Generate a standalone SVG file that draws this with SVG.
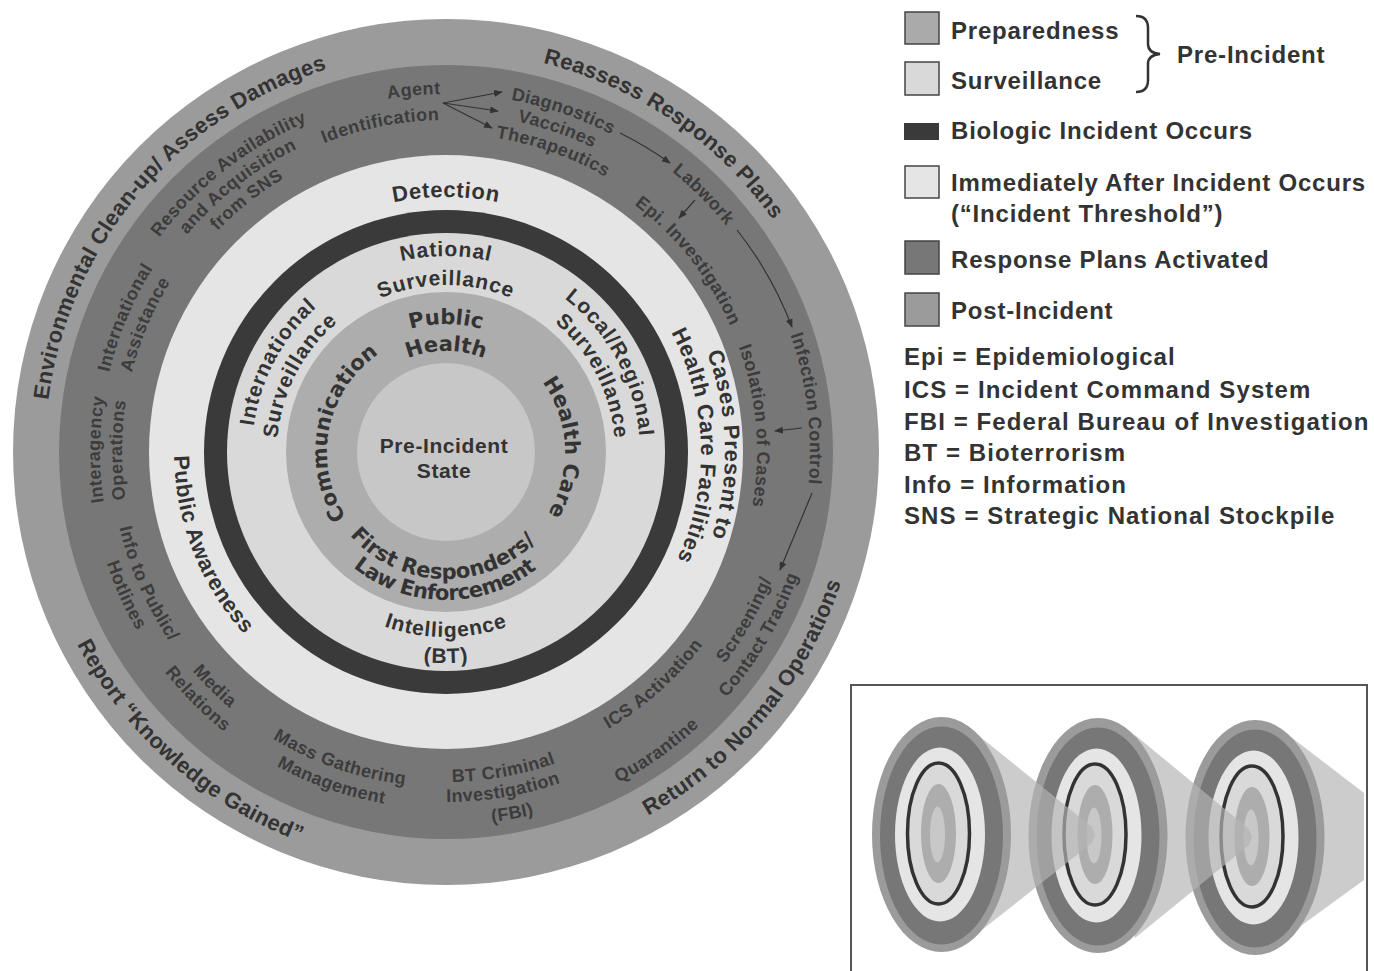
<svg xmlns="http://www.w3.org/2000/svg" width="1374" height="971" viewBox="0 0 1374 971">
<style>
text{font-family:'Liberation Sans',Arial,sans-serif;font-weight:bold;fill:#333;text-anchor:middle}
.o{font-size:22px;letter-spacing:.3px}
.l{font-size:22px;letter-spacing:.6px}
.s{font-size:21px;letter-spacing:.9px}
.p{font-family:'DejaVu Sans',sans-serif;font-size:21px}
.r{font-size:18px;fill:#3c3c3c;letter-spacing:.45px}
.c{font-size:21px;letter-spacing:.6px}
.lg{font-size:24px;letter-spacing:.8px;text-anchor:start}
.ab{font-size:24px;letter-spacing:1.1px;text-anchor:start}
.arr{fill:none;stroke:#333;stroke-width:1.2;marker-end:url(#ah)}
.sw{stroke:#444;stroke-width:1.5}
.cone{fill:#b4b4b4;fill-opacity:.68}
</style>
<defs>
<marker id="ah" viewBox="0 0 10 8" refX="9" refY="4" markerWidth="9" markerHeight="7" markerUnits="userSpaceOnUse" orient="auto"><path d="M0,0L10,4L0,8z" fill="#333"/></marker>
<path id="t401" d="M46.53,417.05 A401,401 0 0 1 845.47,417.05"/>
<path id="t279" d="M168.06,427.68 A279,279 0 0 1 723.94,427.68"/>
<path id="t255" d="M191.97,429.78 A255,255 0 0 1 700.03,429.78"/>
<path id="t196" d="M250.75,434.92 A196,196 0 0 1 641.25,434.92"/>
<path id="t194" d="M252.74,435.09 A194,194 0 0 1 639.26,435.09"/>
<path id="t169" d="M277.64,437.27 A169,169 0 0 1 614.36,437.27"/>
<path id="t167" d="M279.64,437.44 A167,167 0 0 1 612.36,437.44"/>
<path id="t128" d="M318.49,440.84 A128,128 0 0 1 573.51,440.84"/>
<path id="t119" d="M327.45,441.63 A119,119 0 0 1 564.55,441.63"/>
<path id="t101" d="M345.38,443.20 A101,101 0 0 1 546.62,443.20"/>
<path id="t364" d="M83.39,420.28 A364,364 0 0 1 808.61,420.28"/>
<path id="t360" d="M87.37,420.62 A360,360 0 0 1 804.63,420.62"/>
<path id="t358" d="M89.36,420.80 A358,358 0 0 1 802.64,420.80"/>
<path id="t346" d="M101.32,421.84 A346,346 0 0 1 790.68,421.84"/>
<path id="t338" d="M109.29,422.54 A338,338 0 0 1 782.71,422.54"/>
<path id="t332" d="M115.26,423.06 A332,332 0 0 1 776.74,423.06"/>
<path id="t324" d="M123.23,423.76 A324,324 0 0 1 768.77,423.76"/>
<path id="t318" d="M129.21,424.28 A318,318 0 0 1 762.79,424.28"/>
<path id="t309" d="M138.18,425.07 A309,309 0 0 1 754.18,425.07"/>
<path id="b416" d="M31.58,488.26 A416,416 0 0 0 860.42,488.26"/>
<path id="b373" d="M74.42,484.51 A373,373 0 0 0 817.58,484.51"/>
<path id="b357" d="M90.36,483.11 A357,357 0 0 0 801.64,483.11"/>
<path id="b350" d="M97.33,482.50 A350,350 0 0 0 794.67,482.50"/>
<path id="b335" d="M112.27,481.20 A335,335 0 0 0 779.73,481.20"/>
<path id="b330" d="M117.26,480.76 A330,330 0 0 0 774.74,480.76"/>
<path id="b321" d="M126.22,479.98 A321,321 0 0 0 765.78,479.98"/>
<path id="b272" d="M175.04,475.71 A272,272 0 0 0 716.96,475.71"/>
<path id="b211" d="M235.80,470.39 A211,211 0 0 0 656.20,470.39"/>
<path id="b185" d="M261.70,468.12 A185,185 0 0 0 630.30,468.12"/>
<path id="b148" d="M298.56,464.90 A148,148 0 0 0 593.44,464.90"/>
<path id="b127" d="M319.48,463.07 A127,127 0 0 0 572.52,463.07"/>
<g id="tg">
<ellipse cx="0" cy="0" rx="69.5" ry="117.5" fill="#9b9b9b"/>
<ellipse cx="0" cy="1" rx="61.5" ry="109" fill="#777"/>
<ellipse cx="-1.5" cy="0" rx="45" ry="87" fill="#e5e5e5"/>
<ellipse cx="-3" cy="-1" rx="31" ry="70.5" fill="#d9d9d9" stroke="#333" stroke-width="3.5"/>
<ellipse cx="-3" cy="-1" rx="17.5" ry="49.5" fill="#adadad"/>
<ellipse cx="-4" cy="0" rx="7.5" ry="28" fill="#c8c8c8"/>
</g>
</defs>
<rect width="1374" height="971" fill="#fff"/>

<g id="rings">
<circle cx="446" cy="452" r="433" fill="#9b9b9b"/>
<circle cx="446" cy="452" r="387" fill="#777"/>
<circle cx="446" cy="452" r="297" fill="#e5e5e5"/>
<circle cx="446" cy="452" r="242" fill="#3a3a3a"/>
<circle cx="446" cy="452" r="219" fill="#d9d9d9"/>
<circle cx="446" cy="452" r="160" fill="#adadad"/>
<circle cx="446" cy="452" r="89" fill="#c7c7c7"/>
</g>

<g id="post-incident">
<text class="o" transform="rotate(-49.9 446 452)"><textPath href="#t401" startOffset="50%">Environmental Clean-up/ Assess Damages</textPath></text>
<text class="o" transform="rotate(34.35 446 452)"><textPath href="#t401" startOffset="50%">Reassess Response Plans</textPath></text>
<text class="o" transform="rotate(41.5 446 452)"><textPath href="#b416" startOffset="50%">Report “Knowledge Gained”</textPath></text>
<text class="o" transform="rotate(-50.4 446 452)"><textPath href="#b416" startOffset="50%">Return to Normal Operations</textPath></text>
</g>

<g id="response">
<text class="r" transform="rotate(-5.1 446 452)"><textPath href="#t358" startOffset="50%">Agent</textPath></text>
<text class="r" transform="rotate(-11.35 446 452)"><textPath href="#t332" startOffset="50%">Identification</textPath></text>
<text class="r" transform="rotate(19 446 452)"><textPath href="#t358" startOffset="50%">Diagnostics</textPath></text>
<text class="r" transform="rotate(19 446 452)"><textPath href="#t338" startOffset="50%">Vaccines</textPath></text>
<text class="r" transform="rotate(19.6 446 452)"><textPath href="#t318" startOffset="50%">Therapeutics</textPath></text>
<text class="r" transform="rotate(45 446 452)"><textPath href="#t360" startOffset="50%">Labwork</textPath></text>
<text class="r" transform="rotate(51.7 446 452)"><textPath href="#t309" startOffset="50%">Epi. Investigation</textPath></text>
<text class="r" transform="rotate(83.15 446 452)"><textPath href="#t364" startOffset="50%">Infection Control</textPath></text>
<text class="r" transform="rotate(85.15 446 452)"><textPath href="#t309" startOffset="50%">Isolation of Cases</textPath></text>
<text class="r" transform="rotate(-60.65 446 452)"><textPath href="#b350" startOffset="50%">Screening/</textPath></text>
<text class="r" transform="rotate(-59.75 446 452)"><textPath href="#b373" startOffset="50%">Contact Tracing</textPath></text>
<text class="r" transform="rotate(-41.75 446 452)"><textPath href="#b321" startOffset="50%">ICS Activation</textPath></text>
<text class="r" transform="rotate(-35.2 446 452)"><textPath href="#b373" startOffset="50%">Quarantine</textPath></text>
<text class="r" transform="rotate(-10.25 446 452)"><textPath href="#b330" startOffset="50%">BT Criminal</textPath></text>
<text class="r" transform="rotate(-9.6 446 452)"><textPath href="#b350" startOffset="50%">Investigation</textPath></text>
<text class="r" transform="rotate(-10.4 446 452)"><textPath href="#b373" startOffset="50%">(FBI)</textPath></text>
<text class="r" transform="rotate(19.05 446 452)"><textPath href="#b335" startOffset="50%">Mass Gathering</textPath></text>
<text class="r" transform="rotate(19.15 446 452)"><textPath href="#b357" startOffset="50%">Management</textPath></text>
<text class="r" transform="rotate(44.65 446 452)"><textPath href="#b335" startOffset="50%">Media</textPath></text>
<text class="r" transform="rotate(45.15 446 452)"><textPath href="#b357" startOffset="50%">Relations</textPath></text>
<text class="r" transform="rotate(66.2 446 452)"><textPath href="#b335" startOffset="50%">Info to Public/</textPath></text>
<text class="r" transform="rotate(65.9 446 452)"><textPath href="#b357" startOffset="50%">Hotlines</textPath></text>
<text class="r" transform="rotate(-89.6 446 452)"><textPath href="#t346" startOffset="50%">Interagency</textPath></text>
<text class="r" transform="rotate(-89.65 446 452)"><textPath href="#t324" startOffset="50%">Operations</textPath></text>
<text class="r" transform="rotate(-67.3 446 452)"><textPath href="#t346" startOffset="50%">International</textPath></text>
<text class="r" transform="rotate(-67.05 446 452)"><textPath href="#t324" startOffset="50%">Assistance</textPath></text>
<text class="r" transform="rotate(-38 446 452)"><textPath href="#t358" startOffset="50%">Resource Availability</textPath></text>
<text class="r" transform="rotate(-38.05 446 452)"><textPath href="#t338" startOffset="50%">and Acquisition</textPath></text>
<text class="r" transform="rotate(-38.3 446 452)"><textPath href="#t318" startOffset="50%">from SNS</textPath></text>
</g>

<g id="connectors">
<path class="arr" d="M443,103 L502,92"/>
<path class="arr" d="M443,103 L498,111"/>
<path class="arr" d="M443,103 L492,128"/>
<path class="arr" d="M620,133 A364,364 0 0 1 670,163"/>
<path class="arr" d="M695,200 L679,218"/>
<path class="arr" d="M737,230 A367,367 0 0 1 792,327"/>
<path class="arr" d="M802,428 L775,431"/>
<path class="arr" d="M812,493 L780,570"/>
</g>

<g id="incident-threshold">
<text class="l"><textPath href="#t255" startOffset="50%">Detection</textPath></text>
<text class="l" transform="rotate(88.5 446 452)"><textPath href="#t279" startOffset="50%">Cases Present to</textPath></text>
<text class="l" transform="rotate(88.5 446 452)"><textPath href="#t255" startOffset="50%">Health Care Facilities</textPath></text>
<text class="l" transform="rotate(68.5 446 452)"><textPath href="#b272" startOffset="50%">Public Awareness</textPath></text>
</g>

<g id="surveillance">
<text class="s"><textPath href="#t196" startOffset="50%">National</textPath></text>
<text class="s"><textPath href="#t167" startOffset="50%">Surveillance</textPath></text>
<text class="s" transform="rotate(-62 446 452)"><textPath href="#t194" startOffset="50%">International</textPath></text>
<text class="s" transform="rotate(-62.5 446 452)"><textPath href="#t169" startOffset="50%">Surveillance</textPath></text>
<text class="s" transform="rotate(61.6 446 452)"><textPath href="#t194" startOffset="50%">Local/Regional</textPath></text>
<text class="s" transform="rotate(62.8 446 452)"><textPath href="#t169" startOffset="50%">Surveillance</textPath></text>
<text class="s"><textPath href="#b185" startOffset="50%">Intelligence</textPath></text>
<text class="s"><textPath href="#b211" startOffset="50%">(BT)</textPath></text>
</g>

<g id="preparedness">
<text class="p"><textPath href="#t128" startOffset="50%">Public</textPath></text>
<text class="p"><textPath href="#t101" startOffset="50%">Health</textPath></text>
<text class="p" transform="rotate(-78.8 446 452)"><textPath href="#t119" startOffset="50%">Communication</textPath></text>
<text class="p" transform="rotate(87.55 446 452)"><textPath href="#t119" startOffset="50%">Health Care</textPath></text>
<text class="p" transform="rotate(2 446 452)"><textPath href="#b127" startOffset="50%">First Responders/</textPath></text>
<text class="p" transform="rotate(0.6 446 452)" letter-spacing="-0.5"><textPath href="#b148" startOffset="50%">Law Enforcement</textPath></text>
</g>

<g id="center">
<text class="c" x="444" y="453">Pre-Incident</text>
<text class="c" x="444" y="478">State</text>
</g>

<g id="legend">
<rect class="sw" x="905" y="12" width="34" height="32" fill="#aaa"/>
<text class="lg" x="951" y="39">Preparedness</text>
<rect class="sw" x="905" y="62" width="34" height="33" fill="#d9d9d9"/>
<text class="lg" x="951" y="89">Surveillance</text>
<path d="M1136,16 Q1148,16 1148,28 L1148,44 Q1148,53 1160,54 Q1148,55 1148,64 L1148,80 Q1148,92 1136,92" fill="none" stroke="#333" stroke-width="2.5"/>
<text class="lg" x="1177" y="63">Pre-Incident</text>
<rect x="904" y="123" width="35" height="17" fill="#3a3a3a"/>
<text class="lg" x="951" y="139">Biologic Incident Occurs</text>
<rect class="sw" x="905" y="166" width="34" height="32" fill="#e5e5e5"/>
<text class="lg" x="951" y="191">Immediately After Incident Occurs</text>
<text class="lg" x="951" y="222">(“Incident Threshold”)</text>
<rect class="sw" x="905" y="241" width="34" height="33" fill="#777"/>
<text class="lg" x="951" y="268">Response Plans Activated</text>
<rect class="sw" x="905" y="293" width="34" height="33" fill="#9b9b9b"/>
<text class="lg" x="951" y="319">Post-Incident</text>
<text class="ab" x="904" y="365">Epi = Epidemiological</text>
<text class="ab" x="904" y="398">ICS = Incident Command System</text>
<text class="ab" x="904" y="430">FBI = Federal Bureau of Investigation</text>
<text class="ab" x="904" y="461">BT = Bioterrorism</text>
<text class="ab" x="904" y="493">Info = Information</text>
<text class="ab" x="904" y="524">SNS = Strategic National Stockpile</text>
</g>

<g id="inset">
<rect x="851" y="685" width="516" height="300" fill="#fff" stroke="#555" stroke-width="2"/>
<polygon class="cone" points="1291,737 1364,793 1364,880 1291,933 1255,837"/>
<use href="#tg" transform="translate(1255 837.5)"/>
<polygon class="cone" points="1135,735 1249,829 1252,837 1249,845 1135,938 1098,836"/>
<use href="#tg" transform="translate(1098 835.5)"/>
<polygon class="cone" points="978,735 1092,827 1095,835 1092,843 978,933 940,834"/>
<use href="#tg" transform="translate(941.5 834.5)"/>
</g>
</svg>
